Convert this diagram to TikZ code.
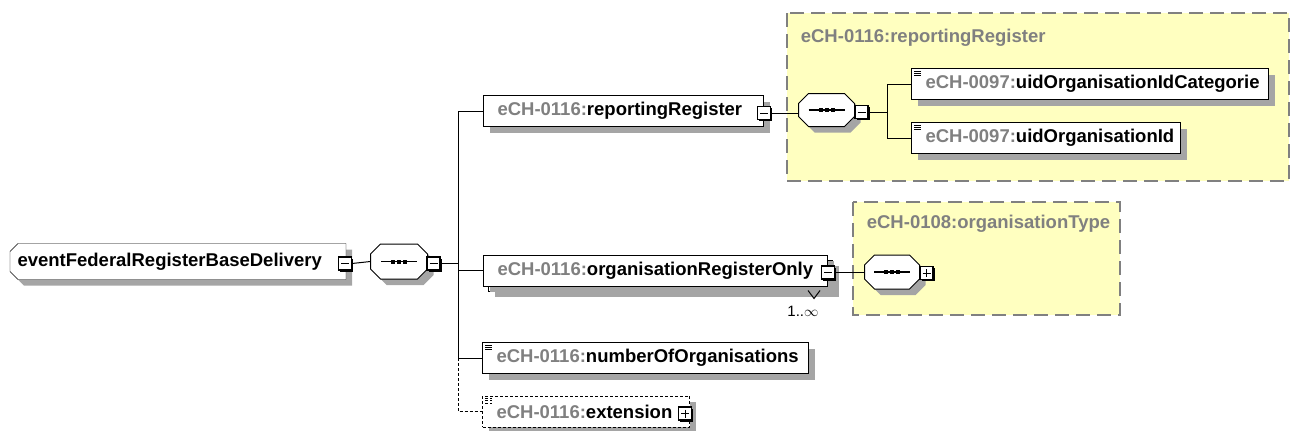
\documentclass[tikz,border=0pt]{standalone}
\usepackage{fontspec}
\setmainfont{Liberation Sans}
\usetikzlibrary{shadows,positioning,calc,backgrounds}
\definecolor{nsgray}{RGB}{128,128,128}
\definecolor{lyellow}{RGB}{255,255,192}
\definecolor{shgray}{RGB}{165,165,165}

\newcommand{\nsname}[2]{\mbox{\textcolor{nsgray}{#1:}#2}}
% outline with cut corners: node, left cut, right cut
\newcommand{\cutpath}[3]{($(#1.north west)+(#2,0)$) -- ($(#1.north east)+(-#3,0)$) -- ($(#1.north east)+(0,#3)$)
    -- ($(#1.south east)+(0,-#3)$) -- ($(#1.south east)+(-#3,0)$) -- ($(#1.south west)+(#2,0)$)
    -- ($(#1.south west)+(0,-#2)$) -- ($(#1.north west)+(0,#2)$) -- cycle}
\newcommand{\cutbox}[3]{%
    \fill[shgray, transform canvas={shift={(6pt,-6pt)}}] \cutpath{#1}{#2}{#3};
    \draw[fill=white] \cutpath{#1}{#2}{#3};
}
\newcommand{\seqmark}[1]{%
    \draw[line width=1.1pt] (#1.center) ++(-18,0) -- ++(36,0);
    \foreach \dx in {-6,0,6} {\fill ($(#1.center)+(\dx,0)$) ++(-2,-2) rectangle ++(4,4);}
}

\begin{document}
\begin{tikzpicture}[x=1pt,y=-1pt, line width=1pt,
    every node/.style={font=\fontsize{18.5}{22}\selectfont\bfseries},
    elem/.style={rectangle, draw, fill=white, anchor=west, align=left, minimum height=31, inner xsep=14pt,
        drop shadow={shadow xshift=6pt, shadow yshift=-6pt, fill=shgray, opacity=1}},
    simple/.style={elem, path picture={\foreach \k in {0,2.2,4.4}
        \draw[line width=0.8pt] ([shift={(2.5pt,-2.5pt-\k pt)}]path picture bounding box.north west) -- ++(7pt,0pt);}},
    seq/.style={rectangle, minimum width=56, minimum height=34, inner sep=0pt},
    tog/.style={rectangle, draw, fill=white, line width=1.1pt, minimum size=13, inner sep=0pt,
        drop shadow={shadow xshift=1.5pt, shadow yshift=-1.5pt, fill=black, opacity=1}},
    minus/.style={tog, path picture={\draw[line width=1pt] ([xshift=2.5pt]path picture bounding box.west) -- ([xshift=-2.5pt]path picture bounding box.east);}},
    plus/.style={tog, path picture={\draw[line width=1pt] ([xshift=2.5pt]path picture bounding box.west) -- ([xshift=-2.5pt]path picture bounding box.east);
        \draw[line width=1pt] ([yshift=-2.5pt]path picture bounding box.north) -- ([yshift=2.5pt]path picture bounding box.south);}},
    typebox/.style={fill=lyellow, draw=nsgray, line width=1.3pt, dash pattern=on 14pt off 7pt},
    typetitle/.style={anchor=west, text=nsgray},
]
\useasboundingbox (0,0) rectangle (1291,431);

% complex types
\draw[typebox] (787,13) rectangle (1289,181);
\node[typetitle] (repType) at (797,37.5) {eCH-0116:reportingRegister};
\draw[typebox] (853,202) rectangle (1120,315);
\node[typetitle] (orgType) at (863,224) {eCH-0108:organisationType};

% root
\node[anchor=west, minimum width=335, minimum height=35, inner xsep=7pt, text width=321, align=left] (root) at (10,261.5) {eventFederalRegisterBaseDelivery};
\begin{scope}[on background layer]
    \cutbox{root}{8}{0}
\end{scope}
\node[minus] (rootTg) at ($(root.east)+(-1,2)$) {};
\node[seq] (seq1) at (399,261.5) {};
\cutbox{seq1}{10}{10}
\seqmark{seq1}
\node[minus] (seq1Tg) at ($(seq1.east)+(6,2)$) {};

% children
\node[elem, text width=252] (rep) at (483,111) {\nsname{eCH-0116}{reportingRegister}};
\node[minus] (repTg) at ($(rep.east)+(0,2)$) {};
\node[elem, text width=316] (orgBack) at (488,275.5) {};
\node[elem, text width=316] (org) at (483,270.5) {\nsname{eCH-0116}{organisationRegisterOnly}};
\node[minus] (orgTg) at ($(org.east)+(0,2)$) {};
\node[font=\fontsize{15}{18}\selectfont] (orgMult) at (803,311) {1..$\infty$};
\node[simple, text width=298] (num) at (482,358) {\nsname{eCH-0116}{numberOfOrganisations}};
\node[simple, text width=179, dash pattern=on 3pt off 2pt, drop shadow={opacity=0}] (ext) at (482,411.5) {\nsname{eCH-0116}{extension}};
\node[plus] (extTg) at ($(ext.east)+(-5,2)$) {};

\coordinate (trk) at (458,0);
\draw (rootTg.east) -- (seq1.west);
\draw (seq1Tg.east) -- (seq1Tg.east -| trk);
\draw (rep.west -| trk) -- (num.west -| trk);
\draw (rep.west -| trk) -- (rep.west);
\draw (org.west -| trk) -- (org.west);
\draw (num.west -| trk) -- (num.west);
\draw[dash pattern=on 3pt off 2pt] (num.west -| trk) |- (ext.west);
\draw ($(org.south east)+(-20,4)$) -- ++(6,8) -- ++(6,-8);

% reportingRegister content
\node[seq, minimum width=55, minimum height=32] (seq2) at (826.5,110) {};
\cutbox{seq2}{10}{10}
\seqmark{seq2}
\node[minus] (seq2Tg) at ($(seq2.east)+(7,2)$) {};
\draw (repTg.east) -- (repTg.east -| seq2.west);
\node[simple, text width=329] (uidCat) at (911,84) {\nsname{eCH-0097}{uidOrganisationIdCategorie}};
\node[simple, text width=241] (uidId) at (911,138) {\nsname{eCH-0097}{uidOrganisationId}};
\coordinate (br2) at (887,0);
\draw (seq2Tg.east) -- (seq2Tg.east -| br2);
\draw (uidCat.west -| br2) -- (uidId.west -| br2);
\draw (uidCat.west -| br2) -- (uidCat.west);
\draw (uidId.west -| br2) -- (uidId.west);

% organisationRegisterOnly content
\node[seq, minimum width=54, minimum height=33] (seq3) at (892,272) {};
\cutbox{seq3}{10}{10}
\seqmark{seq3}
\node[plus] (seq3Tg) at ($(seq3.east)+(7,1)$) {};
\draw (orgTg.east) -- (orgTg.east -| seq3.west);

\end{tikzpicture}
\end{document}
